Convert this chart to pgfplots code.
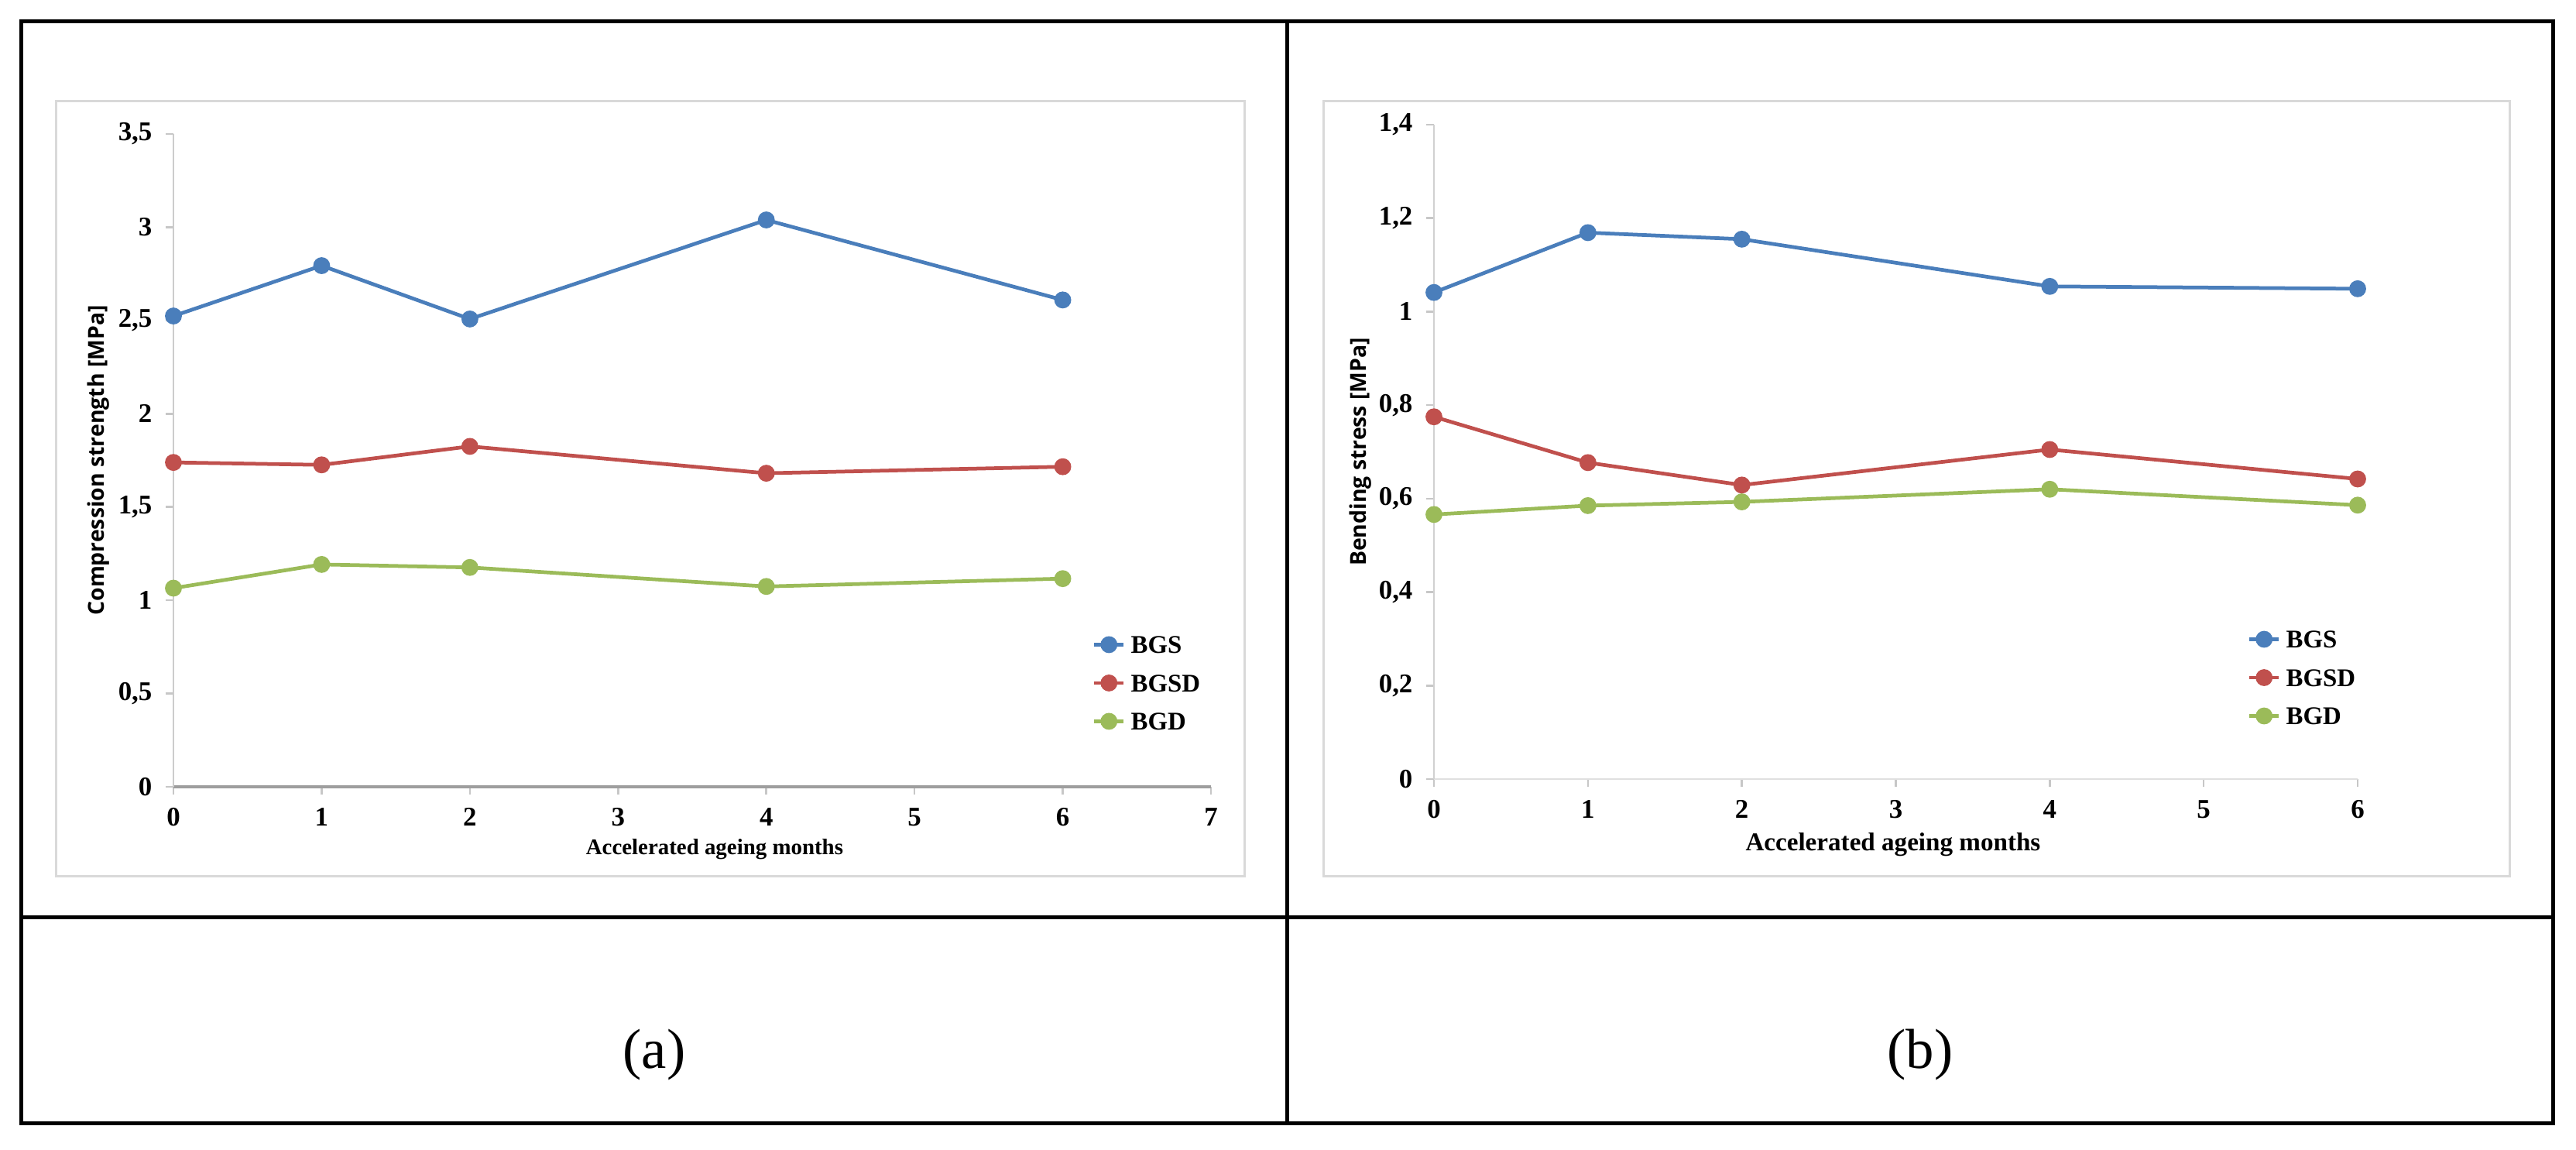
\documentclass[border=0pt]{standalone}
\usepackage{pgfplots}
\pgfplotsset{compat=1.18}
\usepackage{fontspec}
\setmainfont{Liberation Serif}
\newfontfamily\labsans{Open Sans}

\definecolor{bgs}{HTML}{4A7EBB}
\definecolor{bgsd}{HTML}{C0504D}
\definecolor{bgd}{HTML}{9BBB59}

\pgfplotsset{
  excel/.style={
    scale only axis, clip=false,
    axis x line=bottom, axis y line=left,
    axis line style={-},
    tick align=outside, major tick length=2bp,
    tick style={color=black!22, line width=0.5bp},
    ticklabel style={font=\fontsize{7}{7}\selectfont\bfseries},
    ylabel style={font=\labsans\fontsize{5.7}{6}\selectfont\bfseries, anchor=center},
    legend style={draw=none, fill=none, anchor=west, inner sep=0pt,
      row sep=5.4bp, column sep=1.4bp,
      nodes={inner sep=0pt, anchor=west, text height=4.5bp, text depth=0pt,
        font=\fontsize{6.6}{7}\selectfont\bfseries}},
    legend image code/.code={
      \draw[mark repeat=2, mark phase=2, #1] plot coordinates {(0bp,0bp) (3.8bp,0bp) (7.6bp,0bp)};},
    every axis plot/.append style={line width=0.95bp, mark=*, mark size=1.7bp},
  },
}

\begin{document}
\begin{tikzpicture}
\useasboundingbox (0,0) rectangle (665.4bp,297bp);

% table frame
\draw[line width=1bp] (5.5bp,6.8bp) rectangle (659.4bp,291.5bp);
\draw[line width=1bp] (332.5bp,6.8bp) -- (332.5bp,291.5bp);
\draw[line width=1bp] (5.5bp,60.1bp) -- (659.4bp,60.1bp);

% chart frames
\draw[black!15, line width=0.6bp] (14.4bp,70.6bp) rectangle (321.4bp,270.8bp);
\draw[black!15, line width=0.6bp] (341.8bp,70.6bp) rectangle (648.2bp,270.8bp);

% (a) compression strength
\begin{axis}[excel,
  at={(44.8bp,93.8bp)}, anchor=south west,
  width=268bp, height=168.6bp,
  xmin=0, xmax=7, ymin=0, ymax=3.5,
  xtick={0,1,2,3,4,5,6,7},
  xticklabels={0,1,2,3,4,5,6,7},
  ytick={0,0.5,1,1.5,2,2.5,3,3.5},
  yticklabels={0,{0,5},1,{1,5},2,{2,5},3,{3,5}},
  x axis line style={color=black!38, line width=0.8bp},
  y axis line style={color=black!20, line width=0.5bp},
  xlabel={Accelerated ageing months},
  xlabel style={font=\fontsize{5.8}{6}\selectfont\bfseries,
    at={(axis description cs:0.5216,-0.096)}, anchor=center},
  ylabel={Compression strength [MPa]},
  ylabel style={at={(axis description cs:-0.0724,0.5)}},
  legend style={at={(axis description cs:0.885,0.159)}},
]
\addplot[color=bgs, mark options={fill=bgs}] coordinates {(0,2.524) (1,2.794) (2,2.508) (4,3.039) (6,2.61)};
\addplot[color=bgsd, mark options={fill=bgsd}] coordinates {(0,1.739) (1,1.726) (2,1.825) (4,1.681) (6,1.716)};
\addplot[color=bgd, mark options={fill=bgd}] coordinates {(0,1.065) (1,1.192) (2,1.176) (4,1.074) (6,1.116)};
\legend{BGS,BGSD,BGD}
\end{axis}

% (b) bending stress
\begin{axis}[excel,
  at={(370.4bp,95.8bp)}, anchor=south west,
  width=238.6bp, height=169bp,
  xmin=0, xmax=6, ymin=0, ymax=1.4,
  xtick={0,1,2,3,4,5,6},
  xticklabels={0,1,2,3,4,5,6},
  ytick={0,0.2,0.4,0.6,0.8,1,1.2,1.4},
  yticklabels={0,{0,2},{0,4},{0,6},{0,8},1,{1,2},{1,4}},
  x axis line style={color=black!12, line width=0.5bp},
  y axis line style={color=black!18, line width=0.5bp},
  xlabel={Accelerated ageing months},
  xlabel style={font=\fontsize{6.65}{7}\selectfont\bfseries,
    at={(axis description cs:0.497,-0.1006)}, anchor=center},
  ylabel={Bending stress [MPa]},
  ylabel style={at={(axis description cs:-0.0796,0.5)}},
  legend style={at={(axis description cs:0.880,0.155)}},
]
\addplot[color=bgs, mark options={fill=bgs}] coordinates {(0,1.041) (1,1.169) (2,1.155) (4,1.054) (6,1.049)};
\addplot[color=bgsd, mark options={fill=bgsd}] coordinates {(0,0.775) (1,0.677) (2,0.629) (4,0.705) (6,0.642)};
\addplot[color=bgd, mark options={fill=bgd}] coordinates {(0,0.566) (1,0.585) (2,0.593) (4,0.620) (6,0.586)};
\legend{BGS,BGSD,BGD}
\end{axis}

\node[font=\fontsize{14.6}{16}\selectfont] at (169bp,24.6bp) {(a)};
\node[font=\fontsize{14.6}{16}\selectfont] at (496bp,24.6bp) {(b)};
\end{tikzpicture}
\end{document}
